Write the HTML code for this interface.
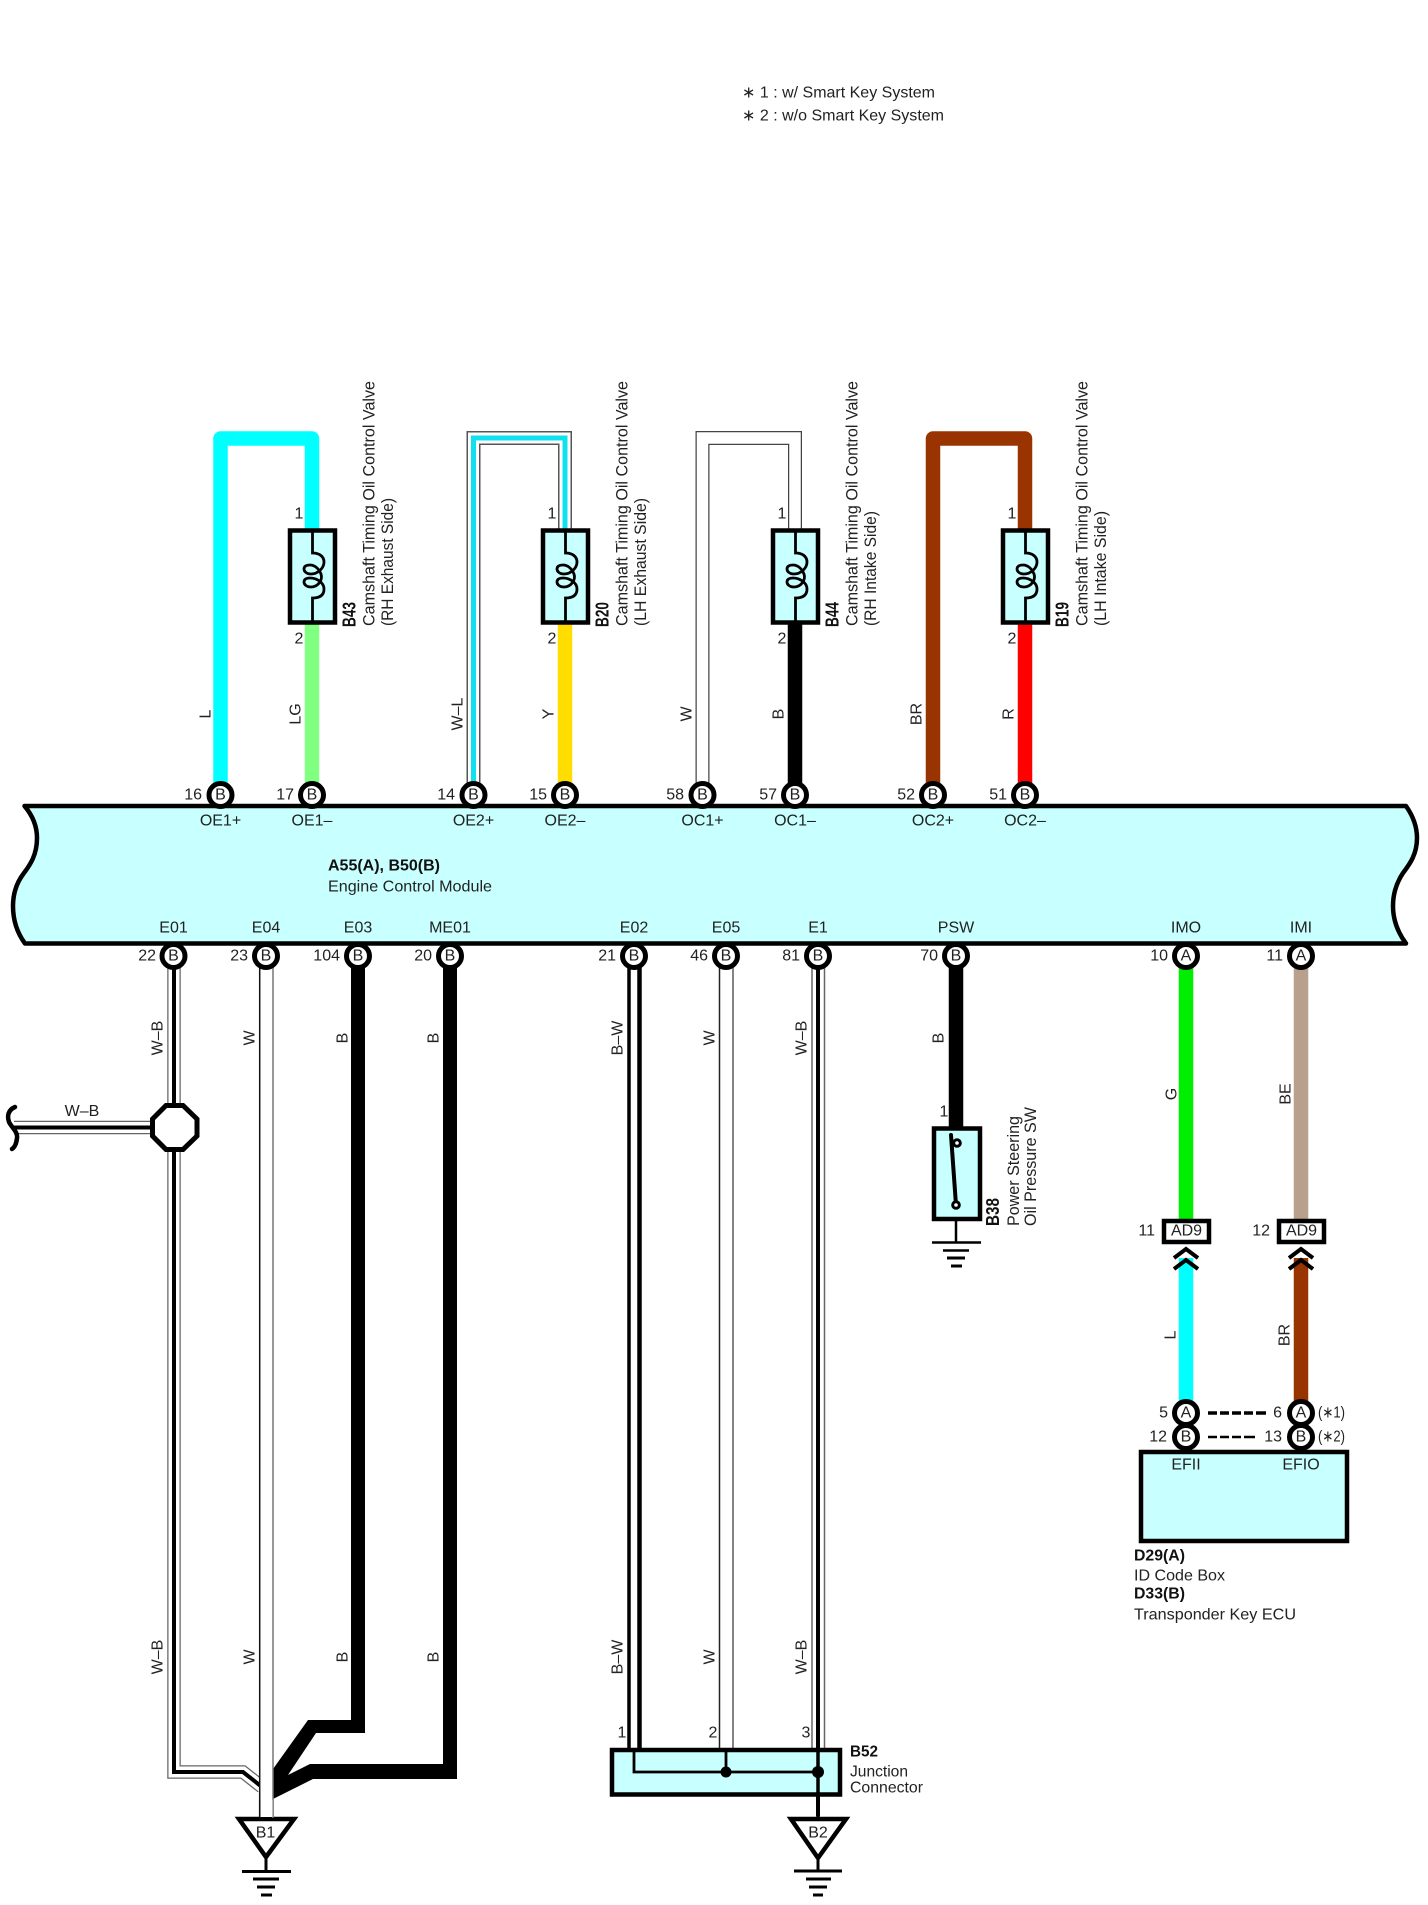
<!DOCTYPE html>
<html><head><meta charset="utf-8"><style>
html,body{margin:0;padding:0;background:#fff}
svg{display:block}
text{font-family:"Liberation Sans",sans-serif;font-size:16px;fill:#222;dominant-baseline:central}
.m{text-anchor:middle}.e{text-anchor:end}.b{font-weight:bold;fill:#111}
.c{font-size:17px}.r{font-size:18px}
.t{fill:#fff;stroke:#000;stroke-width:5}
.n{fill:none}
</style></head><body>
<svg width="1428" height="1905" viewBox="0 0 1428 1905" xmlns="http://www.w3.org/2000/svg">
<rect width="1428" height="1905" fill="#fff"/>
<text x="742" y="93" textLength="193" lengthAdjust="spacingAndGlyphs">∗ 1 : w/ Smart Key System</text>
<text x="742" y="116" textLength="202" lengthAdjust="spacingAndGlyphs">∗ 2 : w/o Smart Key System</text>

<!-- top wires -->
<path class="n" d="M220.5 795V438.5H312V530" stroke="#00ffff" stroke-width="14.5" stroke-linejoin="round"/>
<path class="n" d="M312 620V795" stroke="#80ff80" stroke-width="14.5"/>
<path class="n" d="M473.5 795V438H565V530" stroke="#555" stroke-width="14"/>
<path class="n" d="M473.5 795V438H565V530" stroke="#fff" stroke-width="11"/>
<path class="n" d="M473.5 795V438H565V530" stroke="#11e0ee" stroke-width="5"/>
<path class="n" d="M565 620V795" stroke="#ffdd00" stroke-width="14.5"/>
<path class="n" d="M702.5 795V438H795V530" stroke="#444" stroke-width="14"/>
<path class="n" d="M702.5 795V438H795V530" stroke="#fff" stroke-width="11.5"/>
<path class="n" d="M795 620V795" stroke="#000" stroke-width="14.5"/>
<path class="n" d="M933 795V438.5H1025V530" stroke="#993300" stroke-width="14.5" stroke-linejoin="round"/>
<path class="n" d="M1025 620V795" stroke="#ff0000" stroke-width="14.5"/>

<!-- coil boxes -->
<g><rect x="290" y="530.5" width="45" height="92" fill="#c8ffff" stroke="#000" stroke-width="4.5"/>
<path class="n" stroke="#000" stroke-width="2.8" d="M312.5 530V553C320 553 324 557 324 562C324 568 318 574 311 574C306 574 304 571 304 569C304 566 307 565 310 565C315 565 319 569 321 574C323 580 318 587 311 587C306 587 304 584 304 582C304 579 307 578 310 578C316 578 324 582 324 589C324 595 320 598 312.5 598V623"/></g>
<g transform="translate(253,0)"><rect x="290" y="530.5" width="45" height="92" fill="#c8ffff" stroke="#000" stroke-width="4.5"/>
<path class="n" stroke="#000" stroke-width="2.8" d="M312.5 530V553C320 553 324 557 324 562C324 568 318 574 311 574C306 574 304 571 304 569C304 566 307 565 310 565C315 565 319 569 321 574C323 580 318 587 311 587C306 587 304 584 304 582C304 579 307 578 310 578C316 578 324 582 324 589C324 595 320 598 312.5 598V623"/></g>
<g transform="translate(483,0)"><rect x="290" y="530.5" width="45" height="92" fill="#c8ffff" stroke="#000" stroke-width="4.5"/>
<path class="n" stroke="#000" stroke-width="2.8" d="M312.5 530V553C320 553 324 557 324 562C324 568 318 574 311 574C306 574 304 571 304 569C304 566 307 565 310 565C315 565 319 569 321 574C323 580 318 587 311 587C306 587 304 584 304 582C304 579 307 578 310 578C316 578 324 582 324 589C324 595 320 598 312.5 598V623"/></g>
<g transform="translate(713,0)"><rect x="290" y="530.5" width="45" height="92" fill="#c8ffff" stroke="#000" stroke-width="4.5"/>
<path class="n" stroke="#000" stroke-width="2.8" d="M312.5 530V553C320 553 324 557 324 562C324 568 318 574 311 574C306 574 304 571 304 569C304 566 307 565 310 565C315 565 319 569 321 574C323 580 318 587 311 587C306 587 304 584 304 582C304 579 307 578 310 578C316 578 324 582 324 589C324 595 320 598 312.5 598V623"/></g>

<!-- coil labels -->
<text class="m" x="299" y="514">1</text><text class="m" x="299" y="639">2</text>
<text class="m" x="552" y="514">1</text><text class="m" x="552" y="639">2</text>
<text class="m" x="782" y="514">1</text><text class="m" x="782" y="639">2</text>
<text class="m" x="1012" y="514">1</text><text class="m" x="1012" y="639">2</text>

<g transform="translate(349.5,627) rotate(-90)"><text class="b r" textLength="25" lengthAdjust="spacingAndGlyphs">B43</text></g>
<g transform="translate(369,626) rotate(-90)"><text class="c" textLength="245" lengthAdjust="spacingAndGlyphs">Camshaft Timing Oil Control Valve</text></g>
<g transform="translate(387.5,626) rotate(-90)"><text class="c" textLength="128" lengthAdjust="spacingAndGlyphs">(RH Exhaust Side)</text></g>
<g transform="translate(602.5,627) rotate(-90)"><text class="b r" textLength="25" lengthAdjust="spacingAndGlyphs">B20</text></g>
<g transform="translate(622,626) rotate(-90)"><text class="c" textLength="245" lengthAdjust="spacingAndGlyphs">Camshaft Timing Oil Control Valve</text></g>
<g transform="translate(640.5,626) rotate(-90)"><text class="c" textLength="128" lengthAdjust="spacingAndGlyphs">(LH Exhaust Side)</text></g>
<g transform="translate(832.5,627) rotate(-90)"><text class="b r" textLength="25" lengthAdjust="spacingAndGlyphs">B44</text></g>
<g transform="translate(852,626) rotate(-90)"><text class="c" textLength="245" lengthAdjust="spacingAndGlyphs">Camshaft Timing Oil Control Valve</text></g>
<g transform="translate(870.5,626) rotate(-90)"><text class="c" textLength="115" lengthAdjust="spacingAndGlyphs">(RH Intake Side)</text></g>
<g transform="translate(1062.5,627) rotate(-90)"><text class="b r" textLength="25" lengthAdjust="spacingAndGlyphs">B19</text></g>
<g transform="translate(1082,626) rotate(-90)"><text class="c" textLength="245" lengthAdjust="spacingAndGlyphs">Camshaft Timing Oil Control Valve</text></g>
<g transform="translate(1100.5,626) rotate(-90)"><text class="c" textLength="115" lengthAdjust="spacingAndGlyphs">(LH Intake Side)</text></g>

<!-- wire labels top -->
<g transform="translate(206,714) rotate(-90)"><text class="m">L</text></g>
<g transform="translate(296,714) rotate(-90)"><text class="m">LG</text></g>
<g transform="translate(458,714) rotate(-90)"><text class="m">W–L</text></g>
<g transform="translate(549,714) rotate(-90)"><text class="m">Y</text></g>
<g transform="translate(687,714) rotate(-90)"><text class="m">W</text></g>
<g transform="translate(779,714) rotate(-90)"><text class="m">B</text></g>
<g transform="translate(917,714) rotate(-90)"><text class="m">BR</text></g>
<g transform="translate(1009,714) rotate(-90)"><text class="m">R</text></g>

<!-- ECM bar -->
<path d="M24.5 806C33 816 37 827 37 838C37 855 30 865 24 873C17 882 13 893 13 906C13 921 18 934 25 943.5H1406C1399 934 1393 921 1393 906C1393 893 1397 882 1403 873C1409 865 1417 855 1417 838C1417 827 1413 816 1406 806Z" fill="#c8ffff" stroke="#000" stroke-width="4.5" stroke-linejoin="round"/>
<text x="328" y="866" class="b" textLength="112" lengthAdjust="spacingAndGlyphs">A55(A), B50(B)</text>
<text x="328" y="887" textLength="164" lengthAdjust="spacingAndGlyphs">Engine Control Module</text>

<text class="m" x="220.5" y="821">OE1+</text><text class="m" x="312" y="821">OE1–</text>
<text class="m" x="473.5" y="821">OE2+</text><text class="m" x="565" y="821">OE2–</text>
<text class="m" x="702.5" y="821">OC1+</text><text class="m" x="795" y="821">OC1–</text>
<text class="m" x="933" y="821">OC2+</text><text class="m" x="1025" y="821">OC2–</text>

<text class="m" x="173.5" y="928">E01</text><text class="m" x="266" y="928">E04</text><text class="m" x="358" y="928">E03</text><text class="m" x="450" y="928">ME01</text>
<text class="m" x="634" y="928">E02</text><text class="m" x="726" y="928">E05</text><text class="m" x="818" y="928">E1</text><text class="m" x="956" y="928">PSW</text>
<text class="m" x="1186" y="928">IMO</text><text class="m" x="1301" y="928">IMI</text>

<!-- bottom wires -->
<path class="n" d="M174 956V1772H243L262 1787" stroke="#666" stroke-width="13.5"/>
<path class="n" d="M174 956V1772H243L262 1787" stroke="#fff" stroke-width="11"/>
<path class="n" d="M174 956V1772H243L262 1787" stroke="#000" stroke-width="4"/>
<polygon fill="#000" points="351,956 365,956 365,1733 316,1733 288,1775 310,1764 443,1764 443,956 457,956 457,1779 313,1779 273,1799 273,1769 308,1720 351,1720"/>
<rect x="260" y="956" width="13" height="862" fill="#fff"/>
<path class="n" d="M259.7 956V1818" stroke="#111" stroke-width="1.5"/>
<path class="n" d="M273 956V1818" stroke="#777" stroke-width="1.5"/>

<path class="n" d="M14 1127.5H151" stroke="#666" stroke-width="13.5"/>
<path class="n" d="M14 1127.5H151" stroke="#fff" stroke-width="11"/>
<path class="n" d="M14 1127.5H151" stroke="#000" stroke-width="4"/>
<path class="n" d="M15 1107C8 1110 7 1116 9 1122C12 1128 18 1132 17 1138C16.5 1143 15 1147 12 1149" stroke="#000" stroke-width="4.5" stroke-linecap="round"/>
<polygon points="166,1105.5 183,1105.5 197,1119 197,1136 183,1149.5 166,1149.5 152.5,1136 152.5,1119" fill="#fff" stroke="#000" stroke-width="5"/>
<text class="m" x="82" y="1111.5">W–B</text>

<path class="n" d="M629 956V1748" stroke="#000" stroke-width="3.5"/>
<path class="n" d="M639.5 956V1748" stroke="#000" stroke-width="4.5"/>
<path class="n" d="M719.5 956V1748" stroke="#222" stroke-width="1.5"/>
<path class="n" d="M733 956V1748" stroke="#777" stroke-width="1.8"/>
<path class="n" d="M812 956V1748M824.5 956V1748" stroke="#666" stroke-width="1.5"/>
<path class="n" d="M818 956V1816" stroke="#000" stroke-width="4"/>
<path class="n" d="M956 956V1127" stroke="#000" stroke-width="14.5"/>
<path class="n" d="M1186 956V1220" stroke="#00ee00" stroke-width="14.5"/>
<path class="n" d="M1301 956V1220" stroke="#b8a08c" stroke-width="14.5"/>
<path class="n" d="M1186 1258V1412" stroke="#00ffff" stroke-width="14.5"/>
<path class="n" d="M1301 1258V1412" stroke="#993300" stroke-width="14.5"/>

<!-- bottom wire labels -->
<g transform="translate(158,1038) rotate(-90)"><text class="m">W–B</text></g>
<g transform="translate(250,1038) rotate(-90)"><text class="m">W</text></g>
<g transform="translate(343,1038) rotate(-90)"><text class="m">B</text></g>
<g transform="translate(434,1038) rotate(-90)"><text class="m">B</text></g>
<g transform="translate(618,1038) rotate(-90)"><text class="m">B–W</text></g>
<g transform="translate(710,1038) rotate(-90)"><text class="m">W</text></g>
<g transform="translate(802,1038) rotate(-90)"><text class="m">W–B</text></g>
<g transform="translate(939,1038) rotate(-90)"><text class="m">B</text></g>
<g transform="translate(158,1657) rotate(-90)"><text class="m">W–B</text></g>
<g transform="translate(250,1657) rotate(-90)"><text class="m">W</text></g>
<g transform="translate(343,1657) rotate(-90)"><text class="m">B</text></g>
<g transform="translate(434,1657) rotate(-90)"><text class="m">B</text></g>
<g transform="translate(618,1657) rotate(-90)"><text class="m">B–W</text></g>
<g transform="translate(710,1657) rotate(-90)"><text class="m">W</text></g>
<g transform="translate(802,1657) rotate(-90)"><text class="m">W–B</text></g>
<g transform="translate(1172,1094) rotate(-90)"><text class="m">G</text></g>
<g transform="translate(1286,1094) rotate(-90)"><text class="m">BE</text></g>
<g transform="translate(1171,1335) rotate(-90)"><text class="m">L</text></g>
<g transform="translate(1285,1335) rotate(-90)"><text class="m">BR</text></g>

<!-- terminals top -->
<circle class="t" cx="220.5" cy="795" r="11.5"/><text class="m" x="220.5" y="795">B</text><text class="e" x="202" y="795">16</text>
<circle class="t" cx="312" cy="795" r="11.5"/><text class="m" x="312" y="795">B</text><text class="e" x="294" y="795">17</text>
<circle class="t" cx="473.5" cy="795" r="11.5"/><text class="m" x="473.5" y="795">B</text><text class="e" x="455" y="795">14</text>
<circle class="t" cx="565" cy="795" r="11.5"/><text class="m" x="565" y="795">B</text><text class="e" x="547" y="795">15</text>
<circle class="t" cx="702.5" cy="795" r="11.5"/><text class="m" x="702.5" y="795">B</text><text class="e" x="684" y="795">58</text>
<circle class="t" cx="795" cy="795" r="11.5"/><text class="m" x="795" y="795">B</text><text class="e" x="777" y="795">57</text>
<circle class="t" cx="933" cy="795" r="11.5"/><text class="m" x="933" y="795">B</text><text class="e" x="915" y="795">52</text>
<circle class="t" cx="1025" cy="795" r="11.5"/><text class="m" x="1025" y="795">B</text><text class="e" x="1007" y="795">51</text>

<!-- terminals bottom -->
<circle class="t" cx="173.5" cy="956" r="11.5"/><text class="m" x="173.5" y="956">B</text><text class="e" x="156" y="956">22</text>
<circle class="t" cx="266" cy="956" r="11.5"/><text class="m" x="266" y="956">B</text><text class="e" x="248" y="956">23</text>
<circle class="t" cx="358" cy="956" r="11.5"/><text class="m" x="358" y="956">B</text><text class="e" x="340" y="956">104</text>
<circle class="t" cx="450" cy="956" r="11.5"/><text class="m" x="450" y="956">B</text><text class="e" x="432" y="956">20</text>
<circle class="t" cx="634" cy="956" r="11.5"/><text class="m" x="634" y="956">B</text><text class="e" x="616" y="956">21</text>
<circle class="t" cx="726" cy="956" r="11.5"/><text class="m" x="726" y="956">B</text><text class="e" x="708" y="956">46</text>
<circle class="t" cx="818" cy="956" r="11.5"/><text class="m" x="818" y="956">B</text><text class="e" x="800" y="956">81</text>
<circle class="t" cx="956" cy="956" r="11.5"/><text class="m" x="956" y="956">B</text><text class="e" x="938" y="956">70</text>
<circle class="t" cx="1186" cy="956" r="11.5"/><text class="m" x="1186" y="956">A</text><text class="e" x="1168" y="956">10</text>
<circle class="t" cx="1301" cy="956" r="11.5"/><text class="m" x="1301" y="956">A</text><text class="e" x="1283" y="956">11</text>

<!-- B1 ground -->
<polygon points="239,1819 294,1819 266,1857" fill="#fff" stroke="#000" stroke-width="4.5"/>
<path class="n" d="M259.7 1800V1818" stroke="#111" stroke-width="1.5"/>
<path class="n" d="M273 1800V1818" stroke="#777" stroke-width="1.5"/>
<rect x="260.5" y="1800" width="12" height="17" fill="#fff"/>
<text class="m" x="265.5" y="1833">B1</text>
<path class="n" d="M266 1857V1872" stroke="#000" stroke-width="3"/>
<path class="n" stroke="#000" stroke-width="3" d="M242 1871.5H291M253 1879H279M257 1887H275M261 1895H272"/>

<!-- B52 -->
<rect x="612" y="1750" width="228" height="44.5" fill="#c8ffff" stroke="#000" stroke-width="4.5"/>
<path class="n" stroke="#000" stroke-width="2.8" d="M634 1750V1772H818M726 1750V1772"/>
<circle cx="726" cy="1772" r="5.5"/><circle cx="818" cy="1772" r="6"/>
<path class="n" d="M818 1750V1818" stroke="#000" stroke-width="3.5"/>
<text class="m" x="622" y="1733">1</text><text class="m" x="713" y="1733">2</text><text class="m" x="806" y="1733">3</text>
<text class="b" x="850" y="1752" textLength="28" lengthAdjust="spacingAndGlyphs">B52</text>
<text x="850" y="1772" textLength="58" lengthAdjust="spacingAndGlyphs">Junction</text>
<text x="850" y="1788" textLength="73" lengthAdjust="spacingAndGlyphs">Connector</text>

<!-- B2 ground -->
<polygon points="791,1819 846,1819 818,1858" fill="#fff" stroke="#000" stroke-width="4.5"/>
<text class="m" x="818" y="1833">B2</text>
<path class="n" d="M818 1858V1872" stroke="#000" stroke-width="3"/>
<path class="n" stroke="#000" stroke-width="3" d="M794 1871H842M806 1879H831M809 1887H827M813 1895H823"/>

<!-- B38 -->
<rect x="934" y="1128.5" width="46" height="90.5" fill="#c8ffff" stroke="#000" stroke-width="4.5"/>
<text class="m" x="944" y="1112">1</text>
<path class="n" stroke="#000" stroke-width="4" stroke-linecap="round" d="M951 1135L956 1205"/>
<circle cx="957" cy="1143" r="3.3" fill="#fff" stroke="#000" stroke-width="3"/>
<circle cx="956" cy="1205" r="3.3" fill="#fff" stroke="#000" stroke-width="3"/>
<path class="n" d="M956 1220V1243" stroke="#000" stroke-width="2.5"/>
<path class="n" stroke="#000" stroke-width="2.5" d="M932 1242.5H981M943 1250.5H969"/>
<path class="n" stroke="#000" stroke-width="3" d="M947 1258H965M951 1266H962"/>
<g transform="translate(993,1226) rotate(-90)"><text class="b r" textLength="28" lengthAdjust="spacingAndGlyphs">B38</text></g>
<g transform="translate(1013.5,1226) rotate(-90)"><text class="c" textLength="110" lengthAdjust="spacingAndGlyphs">Power Steering</text></g>
<g transform="translate(1030.5,1226) rotate(-90)"><text class="c" textLength="119" lengthAdjust="spacingAndGlyphs">Oil Pressure SW</text></g>

<!-- AD9 -->
<rect x="1164" y="1221" width="45" height="21" fill="#fff" stroke="#000" stroke-width="4.5"/>
<text class="m" x="1186.5" y="1231">AD9</text><text class="e" x="1155" y="1231">11</text>
<rect x="1279" y="1221" width="45" height="21" fill="#fff" stroke="#000" stroke-width="4.5"/>
<text class="m" x="1301.5" y="1231">AD9</text><text class="e" x="1270" y="1231">12</text>
<path class="n" stroke="#000" stroke-width="4" d="M1174 1258L1186 1249L1198 1258M1174 1269L1186 1260L1198 1269"/>
<path class="n" stroke="#000" stroke-width="4" d="M1289 1258L1301 1249L1313 1258M1289 1269L1301 1260L1313 1269"/>

<!-- ECU -->
<rect x="1141" y="1452" width="206" height="89" fill="#c8ffff" stroke="#000" stroke-width="4.5"/>
<circle class="t" cx="1186" cy="1413" r="11.5"/><text class="m" x="1186" y="1413">A</text>
<circle class="t" cx="1186" cy="1437" r="11.5"/><text class="m" x="1186" y="1437">B</text>
<circle class="t" cx="1301" cy="1413" r="11.5"/><text class="m" x="1301" y="1413">A</text>
<circle class="t" cx="1301" cy="1437" r="11.5"/><text class="m" x="1301" y="1437">B</text>
<text class="e" x="1168" y="1413">5</text><text class="e" x="1167" y="1437">12</text>
<text class="e" x="1282" y="1413">6</text><text class="e" x="1282" y="1437">13</text>
<text x="1318" y="1413" textLength="27" lengthAdjust="spacingAndGlyphs">(∗1)</text><text x="1318" y="1437" textLength="27" lengthAdjust="spacingAndGlyphs">(∗2)</text>
<path class="n" stroke="#000" stroke-width="3.5" d="M1208 1413H1217M1220 1413H1229M1232 1413H1241M1244 1413H1253M1256 1413H1266"/>
<path class="n" stroke="#000" stroke-width="2.5" d="M1208 1437H1217M1220 1437H1229M1232 1437H1241M1244 1437H1255"/>
<text class="m" x="1186" y="1465">EFII</text><text class="m" x="1301" y="1465">EFIO</text>
<text class="b" x="1134" y="1556" textLength="51" lengthAdjust="spacingAndGlyphs">D29(A)</text>
<text x="1134" y="1576" textLength="91" lengthAdjust="spacingAndGlyphs">ID Code Box</text>
<text class="b" x="1134" y="1594" textLength="51" lengthAdjust="spacingAndGlyphs">D33(B)</text>
<text x="1134" y="1615" textLength="162" lengthAdjust="spacingAndGlyphs">Transponder Key ECU</text>
</svg>
</body></html>
